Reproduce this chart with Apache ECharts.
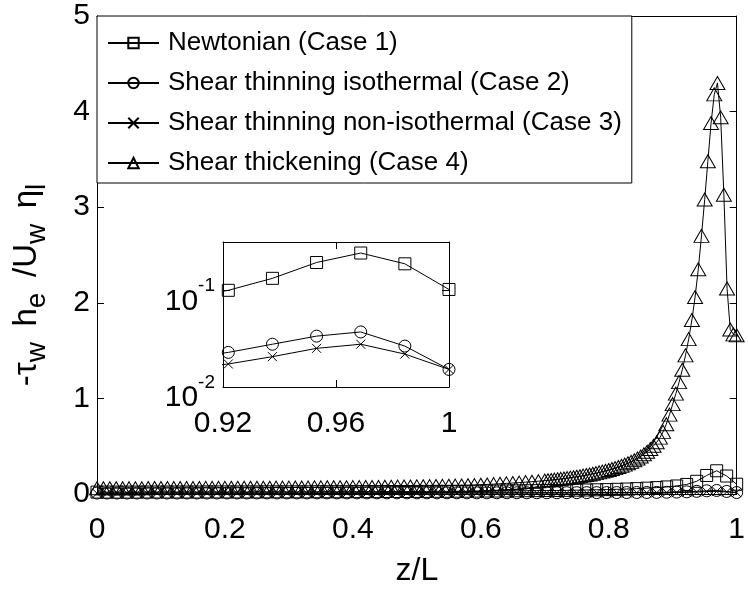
<!DOCTYPE html>
<html><head><meta charset="utf-8">
<script src="https://cdn.jsdelivr.net/npm/echarts@6/dist/echarts.min.js"></script>
<style>html,body{margin:0;padding:0;background:#fff}#c{width:748px;height:592px}</style>
</head><body><div id="c"></div>
<script>
// z/L grid for cases 1-3
const zA = [0, 0.015625, 0.03125, 0.046875, 0.0625, 0.078125, 0.09375, 0.109375, 0.125, 0.140625, 0.15625, 0.171875, 0.1875, 0.203125, 0.21875, 0.234375, 0.25, 0.265625, 0.28125, 0.296875, 0.3125, 0.328125, 0.34375, 0.359375, 0.375, 0.390625, 0.40625, 0.421875, 0.4375, 0.453125, 0.46875, 0.484375, 0.5, 0.515625, 0.53125, 0.546875, 0.5625, 0.578125, 0.59375, 0.609375, 0.625, 0.640625, 0.65625, 0.671875, 0.6875, 0.703125, 0.71875, 0.734375, 0.75, 0.765625, 0.78125, 0.796875, 0.8125, 0.828125, 0.84375, 0.859375, 0.875, 0.890625, 0.90625, 0.921875, 0.9375, 0.953125, 0.96875, 0.984375, 1];
const newtonian = [0.020,0.020,0.020,0.020,0.020,0.021,0.021,0.021, 0.021,0.021,0.021,0.022,0.022,0.022,0.022,0.022, 0.022,0.023,0.023,0.023,0.023,0.023,0.024,0.024, 0.024,0.024,0.025,0.025,0.025,0.026,0.026,0.026, 0.027,0.027,0.028,0.028,0.029,0.029,0.030,0.031, 0.031,0.032,0.033,0.034,0.035,0.036,0.037,0.038, 0.040,0.042,0.044,0.046,0.049,0.052,0.056,0.061, 0.067,0.074,0.084,0.100,0.133,0.194,0.243,0.188,0.102];
const thinIso = [0.0100,0.0100,0.0101,0.0101,0.0102,0.0102,0.0103,0.0103, 0.0104,0.0104,0.0105,0.0105,0.0106,0.0106,0.0107,0.0107, 0.0108,0.0109,0.0109,0.0110,0.0110,0.0111,0.0112,0.0112, 0.0113,0.0114,0.0114,0.0115,0.0116,0.0117,0.0117,0.0118, 0.0119,0.0120,0.0121,0.0122,0.0123,0.0124,0.0125,0.0126, 0.0127,0.0129,0.0130,0.0131,0.0133,0.0134,0.0136,0.0138, 0.0140,0.0142,0.0144,0.0147,0.0150,0.0153,0.0157,0.0161, 0.0168,0.0180,0.0198,0.0228,0.0277,0.0336,0.0371,0.0265,0.0152];
const thinNonIso = [0.0070,0.0070,0.0071,0.0071,0.0072,0.0072,0.0073,0.0073, 0.0074,0.0074,0.0075,0.0075,0.0076,0.0076,0.0077,0.0077, 0.0078,0.0078,0.0079,0.0079,0.0080,0.0081,0.0081,0.0082, 0.0083,0.0083,0.0084,0.0085,0.0085,0.0086,0.0087,0.0088, 0.0089,0.0090,0.0091,0.0092,0.0093,0.0094,0.0095,0.0096, 0.0097,0.0099,0.0100,0.0102,0.0103,0.0105,0.0107,0.0109, 0.0111,0.0113,0.0115,0.0118,0.0121,0.0124,0.0127,0.0131, 0.0136,0.0143,0.0153,0.0173,0.0206,0.0251,0.0277,0.0219,0.0152];
// z/L grid for case 4
const z4 = [0,0.01,0.02,0.03,0.04,0.05,0.06,0.07,0.08,0.09,0.10,0.11,0.12,0.13,0.14,0.15,0.16,0.17,0.18,0.19,0.20,0.21,0.22,0.23,0.24,0.25,0.26,0.27,0.28,0.29,0.30,0.31,0.32,0.33,0.34,0.35,0.36,0.37,0.38,0.39,0.40,0.41,0.42,0.43,0.44,0.45,0.46,0.47,0.48,0.49,0.50,0.51,0.52,0.53,0.54,0.55,0.56,0.57,0.58,0.59,0.60,0.61,0.62,0.63,0.64,0.65,0.66,0.67,0.68,0.69,0.70,
  0.705,0.71,0.715,0.72,0.725,0.73,0.735,0.74,0.745,0.75,0.755,0.76,0.765,0.77,0.775,0.78,0.785,0.79,0.795,0.80,0.805,0.81,0.815,0.82,0.825,0.83,0.835,0.84,0.845,0.85,0.855,0.86,0.865,0.87,0.875,0.88,0.885,0.89,0.895,0.90,0.905,0.91,0.915,0.92,0.925,0.93,0.935,0.94,0.945,0.95,0.955,0.96,0.965,0.97,0.975,0.98,0.985,0.99,0.995,1.0];
const thickening = [0.060,0.060,0.060,0.061,0.061,0.061,0.061,0.061,0.062,0.062,0.062,0.062,0.062,0.063,0.063,0.063,0.063,0.064,0.064,0.064,0.064,0.065,0.065,0.065,0.065,0.066,0.066,0.066,0.067,0.067,0.067,0.068,0.068,0.068,0.069,0.069,0.070,0.070,0.071,0.071,0.072,0.072,0.073,0.074,0.074,0.075,0.076,0.077,0.078,0.079,0.080,0.081,0.082,0.083,0.085,0.086,0.088,0.089,0.091,0.093,0.097,0.100,0.103,0.107,0.111,0.115,0.119,0.124,0.129,0.134,0.140,
  0.143,0.146,0.150,0.154,0.158,0.162,0.166,0.171,0.176,0.181,0.186,0.192,0.198,0.204,0.211,0.218,0.226,0.234,0.242,0.251,0.261,0.271,0.282,0.294,0.307,0.321,0.336,0.353,0.372,0.393,0.416,0.442,0.471,0.504,0.541,0.590,0.650,0.730,0.830,0.940,1.05,1.17,1.30,1.45,1.62,1.82,2.06,2.35,2.70,3.08,3.48,3.88,4.18,4.30,3.94,3.13,2.15,1.72,1.67,1.66];
const seriesNames = ['Newtonian (Case 1)', 'Shear thinning isothermal (Case 2)', 'Shear thinning non-isothermal (Case 3)', 'Shear thickening (Case 4)'];
const insetXRange = [0.92, 1];
const insetYRange = [0.01, 0.316];

const FONT = '"Liberation Sans", Arial, Helvetica, sans-serif';
const pairs = (xs, ys) => xs.map((x, i) => [x, ys[i]]);
const mk = {color: 'rgba(255,255,255,0)', borderColor: '#000', borderWidth: 1};
const cross = 'path://M0,0L10,10M10,0L0,10';
const ln = {color: '#000', width: 1};

function boxAxis(extra) {
  return Object.assign({
    axisLine: {show: true, onZero: false, lineStyle: {color: '#000', width: 1}},
    axisTick: {show: true, inside: true, length: 7, lineStyle: {color: '#000'}},
    splitLine: {show: false},
    axisLabel: {show: false}
  }, extra);
}
const lab = {color: '#000', fontSize: 30, fontFamily: FONT};

const chart = echarts.init(document.getElementById('c'), null, {renderer: 'canvas'});
const option = {
  animation: false,
  backgroundColor: '#fff',
  grid: [
    {left: 97, top: 16, width: 646, height: 480},
    {left: 223, top: 242, width: 226, height: 145, show: true, backgroundColor: '#fff', borderWidth: 0, z: 5}
  ],
  xAxis: [
    boxAxis({type: 'value', gridIndex: 0, min: 0, max: 1, interval: 0.2, position: 'bottom',
      axisLabel: Object.assign({show: true, margin: 21, formatter: v => String(+v.toFixed(1))}, lab),
      name: 'z/L', nameLocation: 'middle', nameGap: 61, nameTextStyle: Object.assign({}, lab, {fontSize: 32})}),
    boxAxis({type: 'value', gridIndex: 0, min: 0, max: 1, interval: 0.2, position: 'top'}),
    boxAxis({type: 'value', gridIndex: 1, min: insetXRange[0], max: insetXRange[1], interval: 0.04, position: 'bottom', z: 6,
      axisLabel: Object.assign({show: true, margin: 22, formatter: v => String(+v.toFixed(2))}, lab)}),
    boxAxis({type: 'value', gridIndex: 1, min: insetXRange[0], max: insetXRange[1], interval: 0.04, position: 'top', z: 6})
  ],
  yAxis: [
    boxAxis({type: 'value', gridIndex: 0, min: 0, max: 5, interval: 1, position: 'left',
      axisLabel: Object.assign({show: true, margin: 7}, lab),
      name: '{a|-τ}{s|w  }{a|h}{s|e  }{a|/U}{s|w  }{a|η}{s|l}',
      nameLocation: 'middle', nameGap: 46, nameRotate: 90,
      nameTextStyle: {padding: [0, 60, 0, 0], rich: {
        a: {fontSize: 33, fontFamily: FONT, color: '#000', lineHeight: 48, verticalAlign: 'middle'},
        s: {fontSize: 28, fontFamily: FONT, color: '#000', lineHeight: 26, verticalAlign: 'bottom'}
      }}}),
    boxAxis({type: 'value', gridIndex: 0, min: 0, max: 5, interval: 1, position: 'right'}),
    boxAxis({type: 'log', gridIndex: 1, min: insetYRange[0], max: insetYRange[1], logBase: 10, position: 'left', z: 6,
      axisLabel: {show: true, margin: 8, showMaxLabel: false, padding: [12, 0, 0, 0],
        formatter: v => { const l = Math.log10(v); const e = Math.round(l); if (Math.abs(l - e) > 1e-6) return ''; return '{b|10}{p|' + e + '}{q| }'; },
        rich: {
          b: {fontSize: 30, fontFamily: FONT, color: '#000', lineHeight: 28, verticalAlign: 'bottom'},
          p: {fontSize: 19, fontFamily: FONT, color: '#000', lineHeight: 20, verticalAlign: 'top'},
          q: {fontSize: 2, lineHeight: 40, width: 0}
        }}}),
    boxAxis({type: 'log', gridIndex: 1, min: insetYRange[0], max: insetYRange[1], logBase: 10, position: 'right', z: 6})
  ],
  legend: {
    data: seriesNames, orient: 'vertical', left: 97, top: 16,
    backgroundColor: '#fff', borderColor: '#000', borderWidth: 1, borderRadius: 0,
    padding: [14, 10, 7, 10], itemGap: 14, itemWidth: 51, itemHeight: 13,
    textStyle: {fontSize: 26, fontFamily: FONT, color: '#000', lineHeight: 26, padding: [0, 0, 0, 4]},
    z: 10
  },
  series: [
    {name: seriesNames[0], type: 'line', xAxisIndex: 0, yAxisIndex: 0, data: pairs(zA, newtonian), symbol: 'rect', symbolSize: 12, showAllSymbol: true, lineStyle: ln, itemStyle: mk, z: 3},
    {name: seriesNames[1], type: 'line', xAxisIndex: 0, yAxisIndex: 0, data: pairs(zA, thinIso), symbol: 'circle', symbolSize: 12, showAllSymbol: true, lineStyle: ln, itemStyle: mk, z: 3},
    {name: seriesNames[2], type: 'line', xAxisIndex: 0, yAxisIndex: 0, data: pairs(zA, thinNonIso), symbol: cross, symbolSize: 9, showAllSymbol: true, lineStyle: ln, itemStyle: mk, z: 3},
    {name: seriesNames[3], type: 'line', xAxisIndex: 0, yAxisIndex: 0, data: pairs(z4, thickening), symbol: 'triangle', symbolSize: [15, 13], showAllSymbol: true, lineStyle: ln, itemStyle: mk, z: 3},
    {name: 'i1', type: 'line', xAxisIndex: 2, yAxisIndex: 2, data: pairs(zA, newtonian), symbol: 'rect', symbolSize: 12, showAllSymbol: true, lineStyle: ln, itemStyle: mk, z: 7, clip: true},
    {name: 'i2', type: 'line', xAxisIndex: 2, yAxisIndex: 2, data: pairs(zA, thinIso), symbol: 'circle', symbolSize: 12, showAllSymbol: true, lineStyle: ln, itemStyle: mk, z: 7, clip: true},
    {name: 'i3', type: 'line', xAxisIndex: 2, yAxisIndex: 2, data: pairs(zA, thinNonIso), symbol: cross, symbolSize: 9, showAllSymbol: true, lineStyle: ln, itemStyle: mk, z: 7, clip: true}
  ]
};
chart.setOption(option);
</script>
</body></html>
